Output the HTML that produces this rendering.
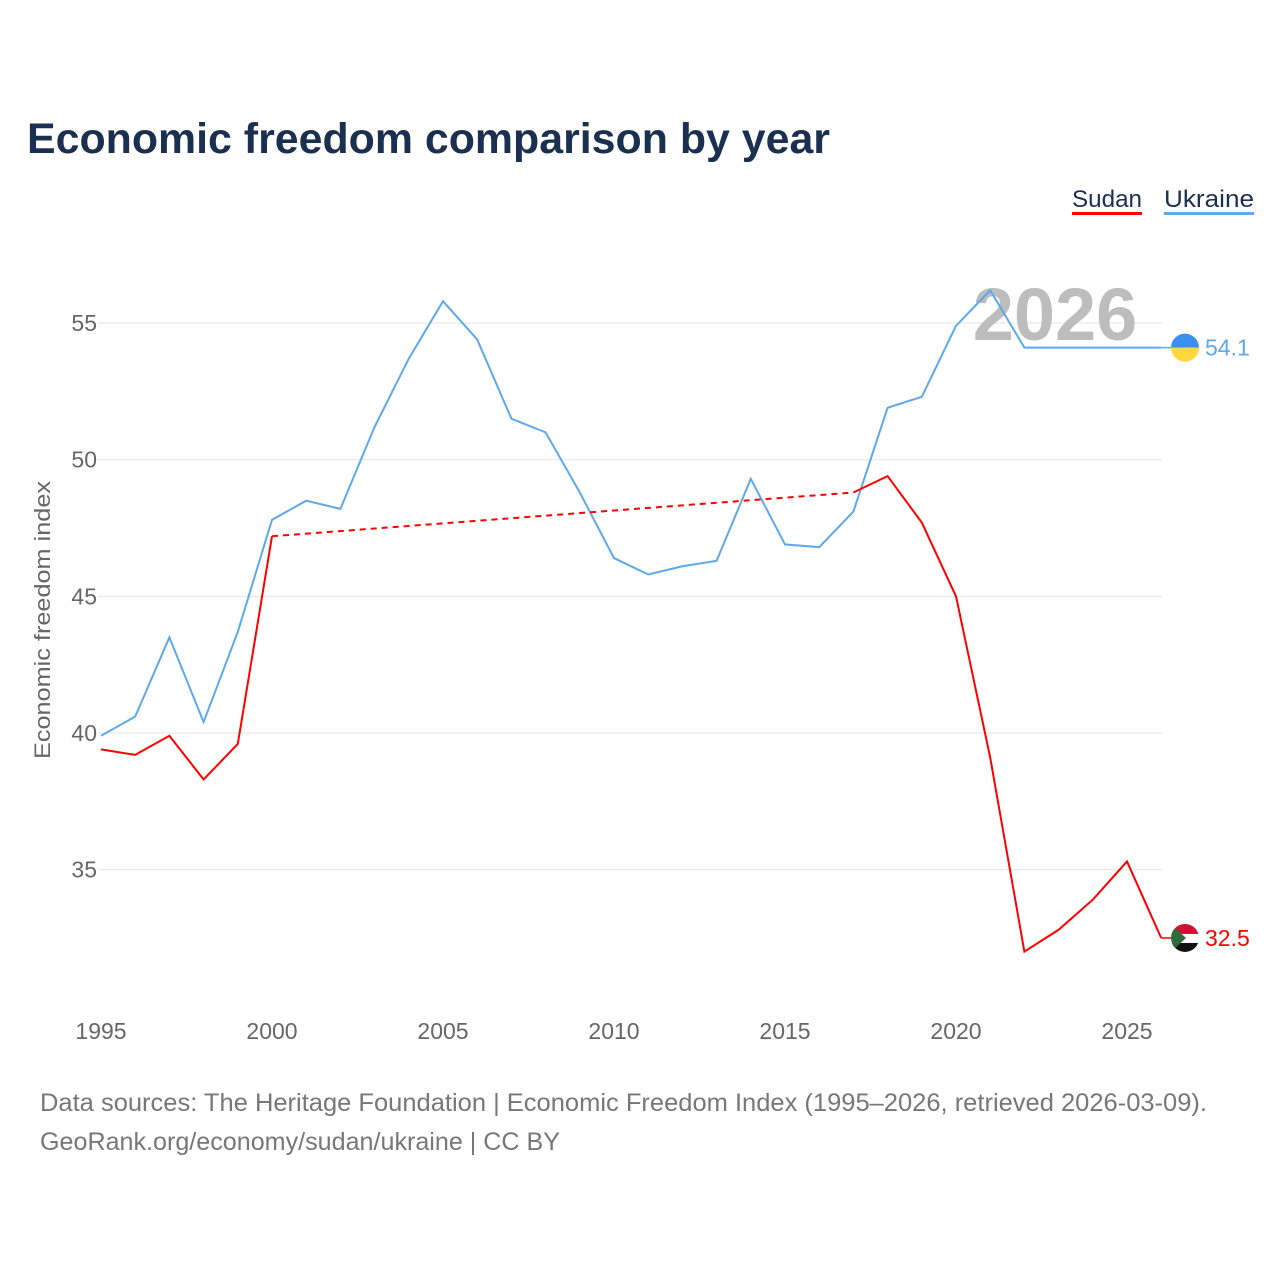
<!DOCTYPE html>
<html><head><meta charset="utf-8">
<style>
body{margin:0;background:#fff;font-family:"Liberation Sans",sans-serif;}
svg text{font-family:"Liberation Sans",sans-serif;}
</style></head>
<body>
<svg id="chart" width="1280" height="1280" viewBox="0 0 1280 1280">
<text x="27" y="153" font-size="43" font-weight="bold" fill="#1b3050" textLength="803" lengthAdjust="spacingAndGlyphs">Economic freedom comparison by year</text>
<g>
<text x="1072" y="207" font-size="24" fill="#1b3050" textLength="70" lengthAdjust="spacingAndGlyphs">Sudan</text>
<rect x="1072" y="212" width="70" height="3" fill="#ff0000"/>
<text x="1164" y="207" font-size="24" fill="#1b3050" textLength="90" lengthAdjust="spacingAndGlyphs">Ukraine</text>
<rect x="1164" y="212" width="90" height="3" fill="#5ea8ec"/>
</g>
<g id="grid"></g>
<text x="1055" y="340" font-size="74" font-weight="bold" fill="#bdbdbd" text-anchor="middle">2026</text>
<text transform="translate(50,620) rotate(-90)" font-size="22" fill="#666" text-anchor="middle" textLength="278" lengthAdjust="spacingAndGlyphs">Economic freedom index</text>
<g id="series"></g>
<text x="40" y="1111" font-size="25" fill="#777" textLength="1167" lengthAdjust="spacingAndGlyphs">Data sources: The Heritage Foundation | Economic Freedom Index (1995–2026, retrieved 2026-03-09).</text>
<text x="40" y="1150" font-size="25" fill="#777" textLength="520" lengthAdjust="spacingAndGlyphs">GeoRank.org/economy/sudan/ukraine | CC BY</text>
</svg>
<script>
const years=[1995,1996,1997,1998,1999,2000,2001,2002,2003,2004,2005,2006,2007,2008,2009,2010,2011,2012,2013,2014,2015,2016,2017,2018,2019,2020,2021,2022,2023,2024,2025,2026];
const ukraine=[39.9,40.6,43.5,40.4,43.7,47.8,48.5,48.2,51.2,53.7,55.8,54.4,51.5,51.0,48.8,46.4,45.8,46.1,46.3,49.3,46.9,46.8,48.1,51.9,52.3,54.9,56.2,54.1,54.1,54.1,54.1,54.1];
const sudan=[39.4,39.2,39.9,38.3,39.6,47.2,null,null,null,null,null,null,null,null,null,null,null,null,null,null,null,null,48.8,49.4,47.7,45.0,39.1,32.0,32.8,33.9,35.3,32.5];
const yTicks=[35,40,45,50,55];
const xTicks=[1995,2000,2005,2010,2015,2020,2025];
const NS='http://www.w3.org/2000/svg';
const X=y=>101+(y-1995)*34.2;
const Y=v=>733-(v-40)*27.33;
const grid=document.getElementById('grid'),ser=document.getElementById('series');
function mk(tag,at,parent){const e=document.createElementNS(NS,tag);for(const k in at)e.setAttribute(k,at[k]);parent.appendChild(e);return e;}
yTicks.forEach(t=>{
 const l=mk('line',{x1:98,x2:1162,y1:Y(t),y2:Y(t),stroke:'#e6e6e6','stroke-width':1},grid);
 
 
 const tx=mk('text',{x:97,y:Y(t)+8,'font-size':23,fill:'#666','text-anchor':'end'},grid);tx.textContent=t;
 
 
});
xTicks.forEach(t=>{
 const tx=mk('text',{x:X(t),y:1039,'font-size':23,fill:'#666','text-anchor':'middle'},grid);tx.textContent=t;
 
 
});
function draw(vals,color,name){
 let segs=[],cur=[],last=null;
 vals.forEach((v,i)=>{
  if(v==null){if(cur.length){segs.push(cur);cur=[];}return;}
  if(cur.length===0&&last!=null&&last.i<i-1){
   const d=mk('path',{d:`M${X(years[last.i])},${Y(last.v)}L${X(years[i])},${Y(v)}`,stroke:color,'stroke-width':2,fill:'none','stroke-dasharray':'6,5'},ser);
   
   
  }
  cur.push([X(years[i]),Y(v)]);last={i,v};
 });
 if(cur.length)segs.push(cur);
 segs.forEach(s=>{
  const p=mk('path',{d:'M'+s.map(q=>q.join(',')).join('L'),stroke:color,'stroke-width':2,fill:'none'},ser);
  
  
 });
 const lv=vals[vals.length-1];
 const ext=mk('line',{x1:X(2026),x2:1185,y1:Y(lv),y2:Y(lv),stroke:color,'stroke-width':1.5},ser);
 
 
 const lab=mk('text',{x:1205,y:Y(lv)+8,'font-size':23,fill:color},ser);lab.textContent=lv.toFixed(1);
 
 
 return Y(lv);
}
const yu=draw(ukraine,'#5ea8ec','ukraine');
const ys=draw(sudan,'#ff0000','sudan');
const fu=mk('g',{},ser);


mk('path',{d:`M1171,${yu}A14,14 0 0 1 1199,${yu}Z`,fill:'#3a8ff0'},fu);
mk('path',{d:`M1171,${yu}A14,14 0 0 0 1199,${yu}Z`,fill:'#ffd93b'},fu);
const fs=mk('g',{},ser);


const cp=mk('clipPath',{id:'sc'},fs);mk('circle',{cx:1185,cy:ys,r:14},cp);
const gg=mk('g',{'clip-path':'url(#sc)'},fs);
mk('rect',{x:1171,y:ys-14,width:28,height:10,fill:'#d21034'},gg);
mk('rect',{x:1171,y:ys-4,width:28,height:9,fill:'#fff'},gg);
mk('rect',{x:1171,y:ys+5,width:28,height:10,fill:'#111'},gg);
mk('path',{d:`M1171,${ys-14}L1186,${ys}L1171,${ys+14}Z`,fill:'#2f6b3a'},gg);
</script>
</body></html>
